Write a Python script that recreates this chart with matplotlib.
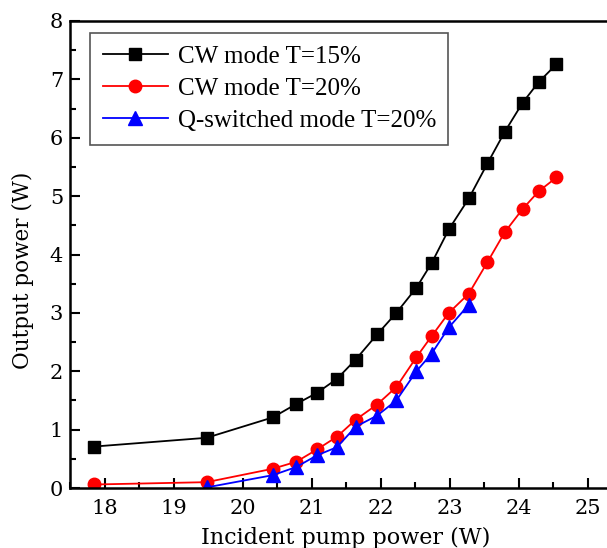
import matplotlib
matplotlib.use("Agg")
import matplotlib.pyplot as plt
from matplotlib.ticker import MultipleLocator

# Data
x_cw15 = [17.85, 19.48, 20.44, 20.78, 21.08, 21.37, 21.64, 21.95, 22.23, 22.52,
          22.74, 22.99, 23.28, 23.55, 23.80, 24.06, 24.29, 24.55]
y_cw15 = [0.71, 0.86, 1.21, 1.44, 1.63, 1.87, 2.20, 2.63, 3.00, 3.43,
          3.85, 4.43, 4.96, 5.56, 6.10, 6.60, 6.95, 7.26]

x_cw20 = [17.85, 19.48, 20.44, 20.78, 21.08, 21.37, 21.64, 21.95, 22.23, 22.52,
          22.74, 22.99, 23.28, 23.55, 23.80, 24.06, 24.29, 24.55]
y_cw20 = [0.06, 0.10, 0.33, 0.45, 0.66, 0.88, 1.17, 1.43, 1.73, 2.24,
          2.60, 3.00, 3.33, 3.87, 4.38, 4.78, 5.08, 5.32]

x_qs20 = [19.48, 20.44, 20.78, 21.08, 21.37, 21.64, 21.95, 22.23, 22.52,
          22.74, 22.99, 23.28]
y_qs20 = [0.01, 0.22, 0.36, 0.56, 0.70, 1.05, 1.24, 1.50, 2.00,
          2.30, 2.75, 3.14]

labels = ["CW mode T=15%", "CW mode T=20%", "Q-switched mode T=20%"]
xticks = [18, 19, 20, 21, 22, 23, 24, 25]
yticks = [0, 1, 2, 3, 4, 5, 6, 7, 8]

W, H = 607, 548
fig = plt.figure(figsize=(W / 100, H / 100), dpi=100)
ax = fig.add_axes([70 / W, (H - 488) / H, 552 / W, 467 / H])

ax.plot(x_cw15, y_cw15, color="black", marker="s", markersize=8.5, lw=1.3, label=labels[0])
ax.plot(x_cw20, y_cw20, color="red", marker="o", markersize=9, lw=1.3, label=labels[1])
ax.plot(x_qs20, y_qs20, color="blue", marker="^", markersize=9.5, lw=1.3, label=labels[2])

ax.set_xlim(17.5, 25.5)
ax.set_ylim(0, 8)
ax.set_xticks(xticks)
ax.set_yticks(yticks)
ax.xaxis.set_minor_locator(MultipleLocator(0.5))
ax.yaxis.set_minor_locator(MultipleLocator(0.5))
ax.tick_params(which="both", direction="in", width=1.5)
ax.tick_params(which="major", length=7.5)
ax.tick_params(which="minor", length=4.5)
ax.tick_params(axis="both", labelsize=15)
ax.tick_params(axis="x", pad=8)
ax.tick_params(axis="y", pad=5)
for lab in ax.get_xticklabels() + ax.get_yticklabels():
    lab.set_family("DejaVu Serif")
for s in ax.spines.values():
    s.set_linewidth(1.8)

ax.set_xlabel("Incident pump power (W)", family="DejaVu Serif", fontsize=16, labelpad=6)
ax.set_ylabel("Output power (W)", family="DejaVu Serif", fontsize=15.5, labelpad=8)
ax.yaxis.set_label_coords(-0.065, 0.467)

leg = ax.legend(loc="upper left", bbox_to_anchor=(20 / 552, (488 - 33) / 467),
                borderaxespad=0, prop={"family": "Liberation Serif", "size": 18},
                fancybox=False, edgecolor="#555555", framealpha=1,
                handlelength=2.6, handletextpad=0.4, labelspacing=0.38,
                borderpad=0.5)
leg.get_frame().set_linewidth(1.2)

fig.savefig("out.png", dpi=100)
